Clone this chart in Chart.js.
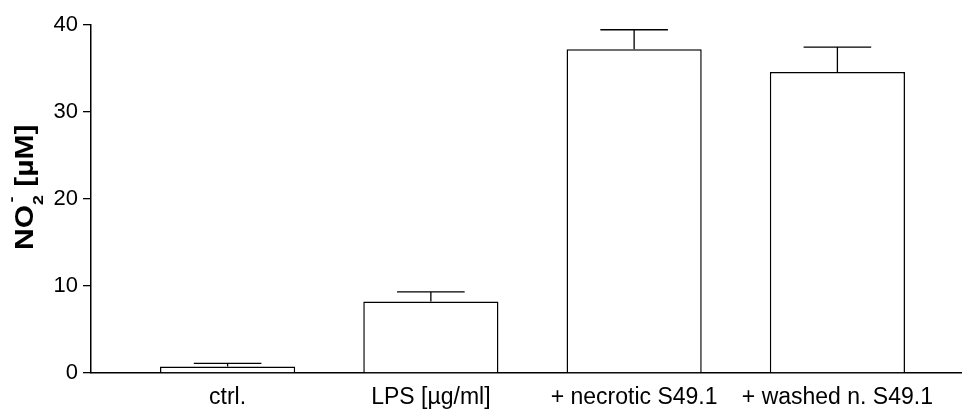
<!DOCTYPE html>
<html>
<head>
<meta charset="utf-8">
<script src="https://cdn.jsdelivr.net/npm/chart.js@4/dist/chart.umd.min.js"></script>
<style>
  html, body { margin: 0; padding: 0; background: #fff; }
</style>
</head>
<body>
<canvas id="myChart" width="962" height="409"></canvas>
<script>
// groups, mean nitrite and SEM
const categories = ["ctrl.", "LPS [µg/ml]", "+ necrotic S49.1", "+ washed n. S49.1"]
const means = [0.75, 8.2, 37.15, 34.55]
const sem = [0.35, 1.1, 2.25, 2.85]
const yTicks = [0, 10, 20, 30, 40]

// axis title pieces: NO2- [µM]
const titleMain = "NO"
const titleSub = "2"
const titleSup = "-"
const titleUnit = " [µM]"

Chart.defaults.font.family = "'Liberation Sans', Arial, sans-serif"
Chart.defaults.color = "#000"

// SEM whiskers on top of each bar
const errorBars = {
  id: "errorBars",
  afterDatasetsDraw(chart) {
    const { ctx, scales: { y } } = chart
    const meta = chart.getDatasetMeta(0)
    ctx.save()
    ctx.strokeStyle = "#000"
    ctx.lineWidth = 1.3
    meta.data.forEach((bar, i) => {
      const top = y.getPixelForValue(means[i] + sem[i])
      const half = bar.width / 4
      ctx.beginPath()
      ctx.moveTo(bar.x, bar.y)
      ctx.lineTo(bar.x, top)
      ctx.moveTo(bar.x - half, top)
      ctx.lineTo(bar.x + half, top)
      ctx.stroke()
    })
    ctx.restore()
  }
}

// rotated y title with sub/superscript, a bit wide like the axis font
const yTitle = {
  id: "yTitle",
  afterDraw(chart) {
    const ctx = chart.ctx
    ctx.save()
    ctx.translate(33, 250)
    ctx.rotate(-Math.PI / 2)
    ctx.scale(1.2, 1)
    ctx.fillStyle = "#000"
    ctx.textBaseline = "alphabetic"
    ctx.font = "bold 25px 'Liberation Sans'"
    ctx.fillText(titleMain, 0, 0)
    let x = ctx.measureText(titleMain).width
    ctx.font = "bold 15px 'Liberation Sans'"
    ctx.fillText(titleSub, x, 10)
    ctx.fillText(titleSup, x + 2, -17)
    x += ctx.measureText(titleSub).width
    ctx.font = "bold 25px 'Liberation Sans'"
    ctx.fillText(titleUnit, x, 0)
    ctx.restore()
  }
}

const ctx = document.getElementById("myChart").getContext("2d")
const myChart = new Chart(ctx, {
  type: "bar",
  data: {
    datasets: [{
      data: means.map((v, i) => ({ x: i, y: v })),
      backgroundColor: "#fff",
      borderColor: "#000",
      borderWidth: 1.5,
      barPercentage: 0.665,
      categoryPercentage: 1
    }]
  },
  options: {
    responsive: false,
    animation: false,
    layout: { padding: { top: 24.5, left: 0, right: 0, bottom: 0 } },
    plugins: { legend: { display: false }, tooltip: { enabled: false } },
    scales: {
      x: {
        type: "linear",
        min: -0.672,
        max: 3.613,
        offset: false,
        bounds: "data",
        grid: { display: false },
        border: { display: true, color: "#000", width: 1.5 },
        afterBuildTicks: scale => { scale.ticks = categories.map((c, i) => ({ value: i })) },
        afterFit: scale => { scale.height = 36 },
        ticks: {
          autoSkip: false,
          maxRotation: 0,
          padding: 3,
          font: { size: 23 },
          callback: v => categories[v]
        }
      },
      y: {
        min: 0,
        max: 40,
        afterBuildTicks: scale => { scale.ticks = yTicks.map(v => ({ value: v })) },
        afterFit: scale => { scale.width = 91 },
        grid: { drawOnChartArea: false, drawTicks: true, tickLength: 8, color: "#000", lineWidth: 1.3 },
        border: { display: true, color: "#000", width: 1.5 },
        ticks: { padding: 5, font: { size: 22 } }
      }
    }
  },
  plugins: [errorBars, yTitle]
})
</script>
</body>
</html>
